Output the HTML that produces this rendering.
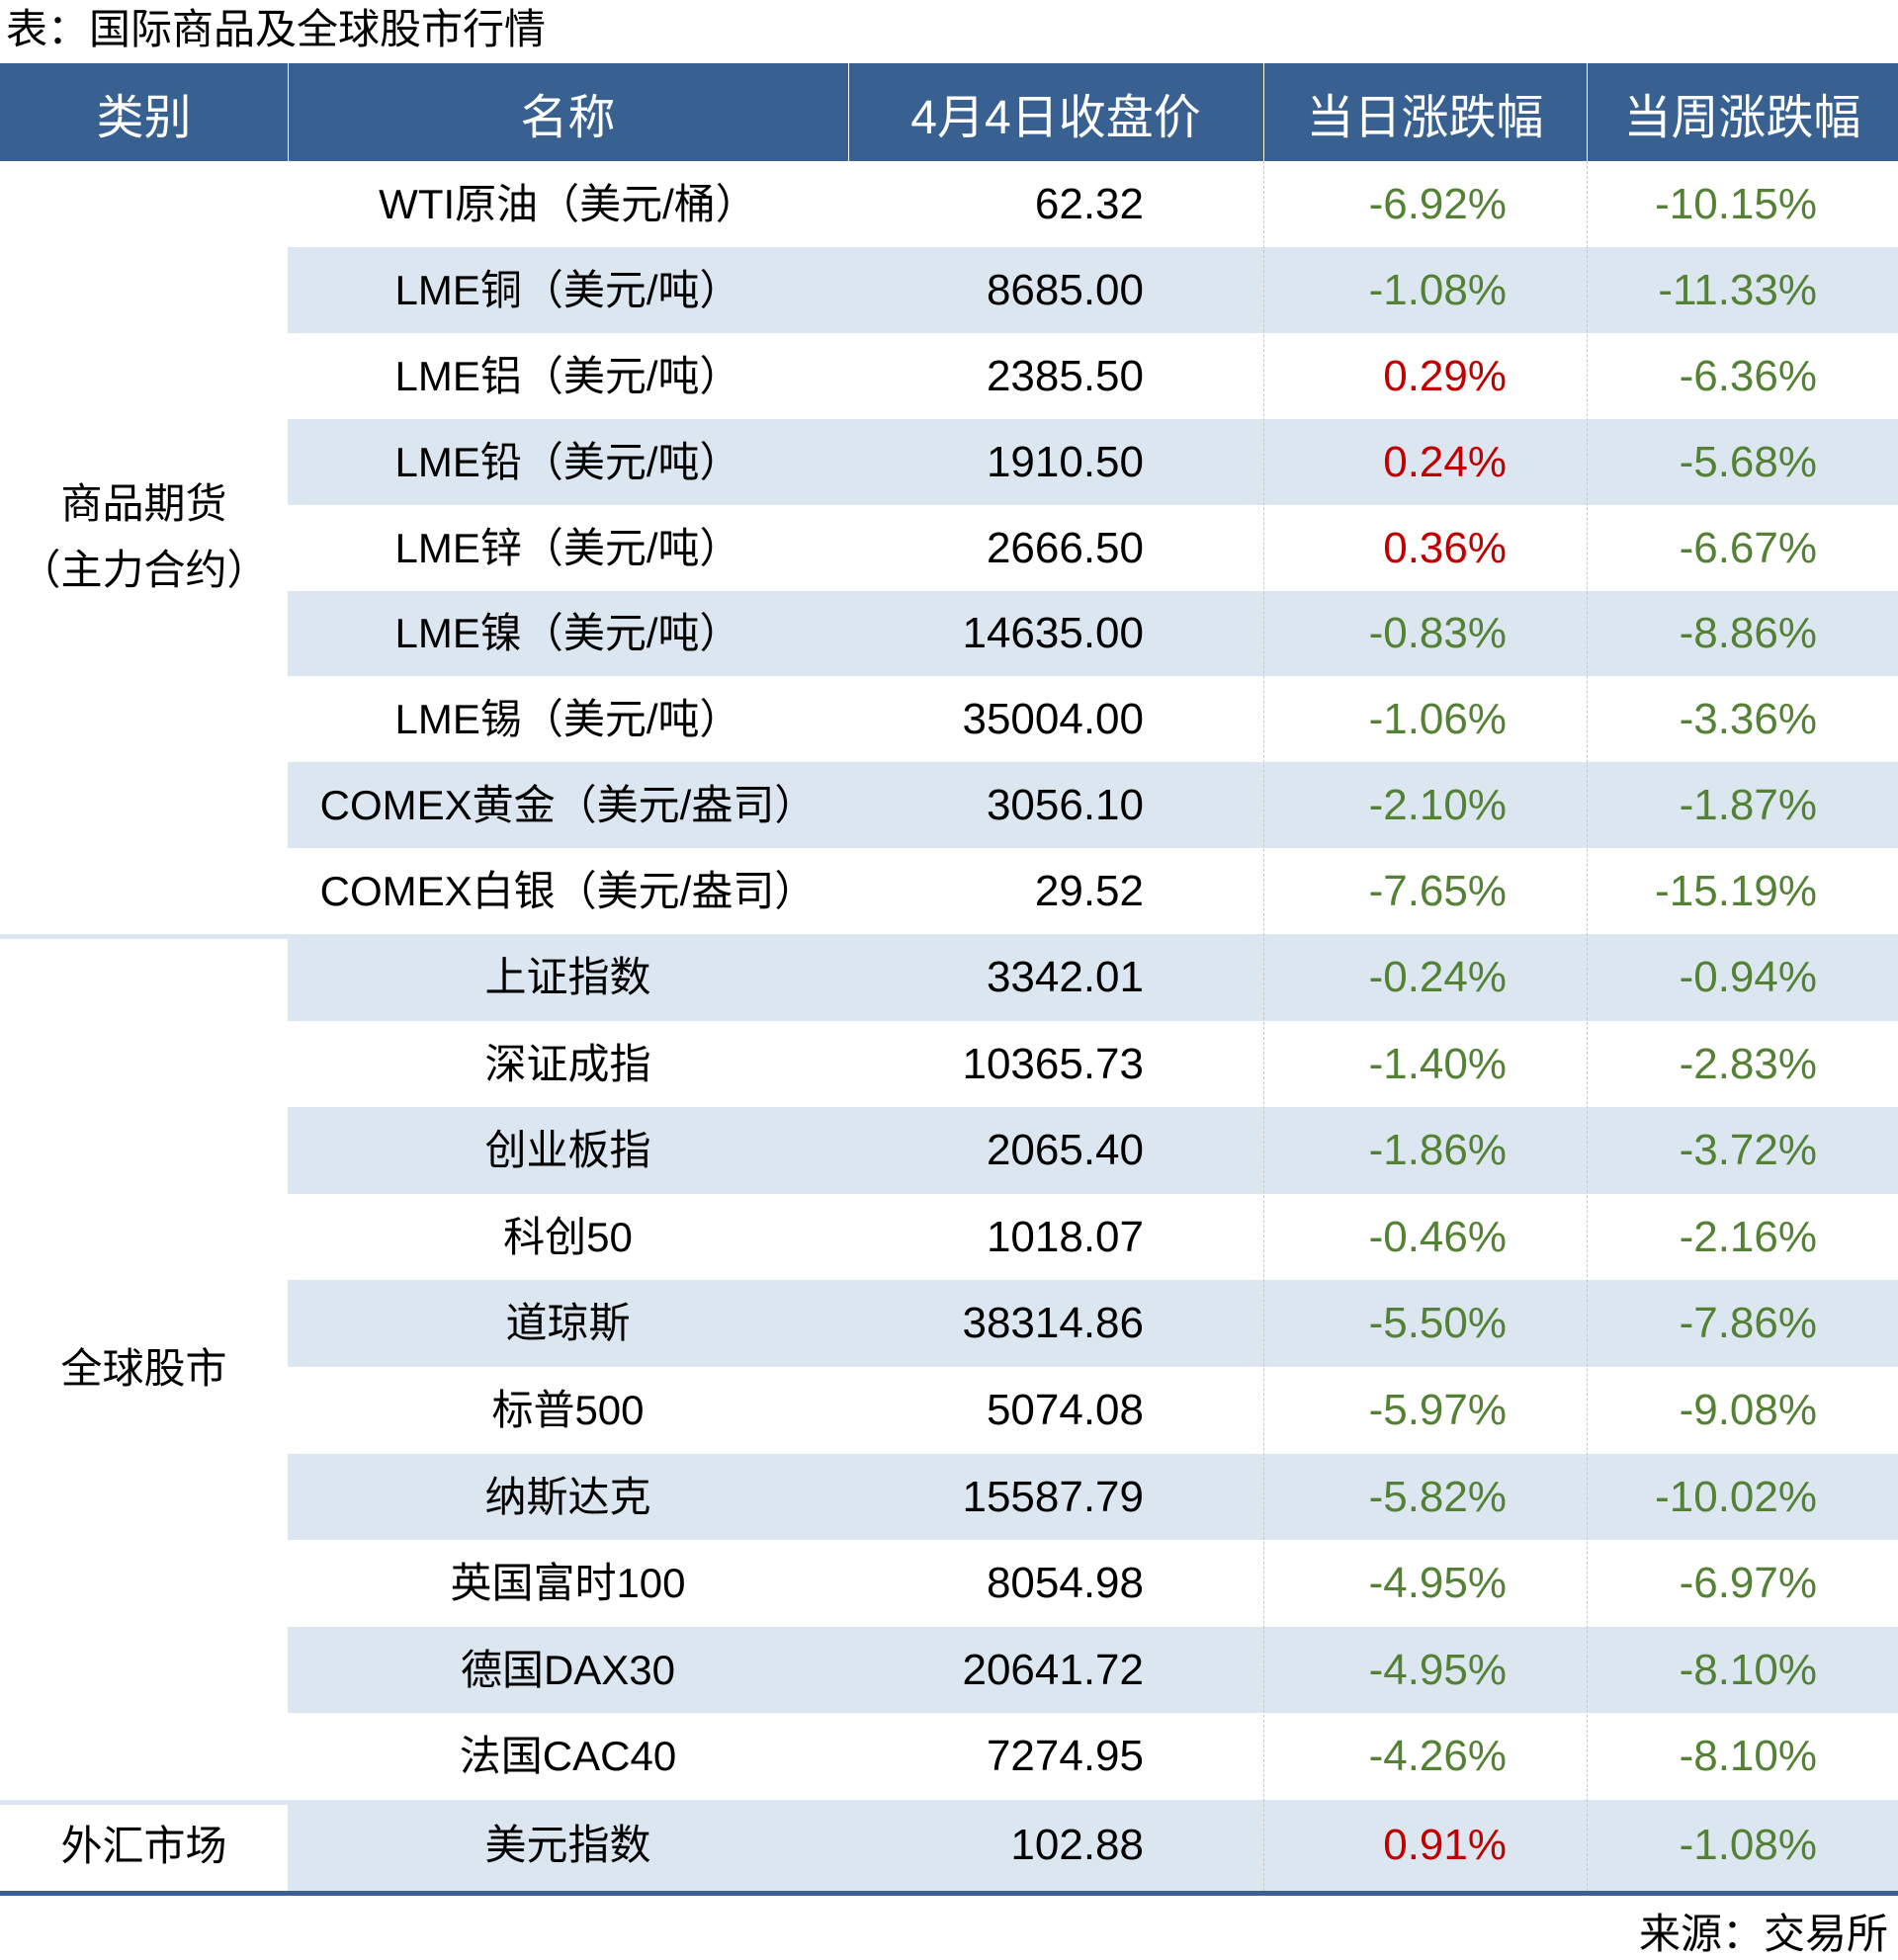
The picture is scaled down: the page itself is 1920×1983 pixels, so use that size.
<!DOCTYPE html>
<html><head><meta charset="utf-8">
<style>
*{margin:0;padding:0;box-sizing:border-box}
body{width:1920px;height:1983px;background:#fff;position:relative;overflow:hidden;font-family:"Liberation Sans","Noto Sans CJK SC",sans-serif;color:#000}
.a{position:absolute}
.title{left:6px;top:5px;font-size:42px;line-height:50px}
.hdr{left:0;top:64px;width:1920px;height:99px;background:#386192}
.hc{position:absolute;top:70px;height:99px;line-height:99px;color:#fff;font-size:48px;text-align:center}
.vs{position:absolute;top:64px;height:99px;width:1px;background:#fff}
.shade{position:absolute;left:291px;width:1629px;background:#dce6f0}
.cell{position:absolute;font-size:42px;white-space:nowrap}
.nm{left:291px;width:567px;text-align:center}
.pr{left:860px;width:297px;text-align:right;font-size:44px}
.d{left:1280px;width:244px;text-align:right;font-size:44px}
.w{left:1607px;width:231px;text-align:right;font-size:44px}
.g{color:#548235}.r{color:#c00000}
.dash{position:absolute;top:163px;height:1750px;width:0;border-left:1px dashed #c8c8c8}
.cat{position:absolute;left:0;width:291px;text-align:center;font-size:42px}
</style></head><body>
<div class="a title">表：国际商品及全球股市行情</div>
<div class="a hdr"></div>
<div class="hc" style="left:0;width:291px">类别</div>
<div class="hc" style="left:291px;width:567px">名称</div>
<div class="hc" style="left:858px;width:420px">4月4日收盘价</div>
<div class="hc" style="left:1278px;width:327px">当日涨跌幅</div>
<div class="hc" style="left:1605px;width:315px">当周涨跌幅</div>
<div class="vs" style="left:291px"></div>
<div class="vs" style="left:858px"></div>
<div class="vs" style="left:1278px"></div>
<div class="vs" style="left:1605px"></div>
<div id="rows"></div>
<div class="a" style="left:0;top:945px;width:291px;height:5px;background:#dce6f0"></div>
<div class="a" style="left:0;top:1821px;width:291px;height:5px;background:#dce6f0"></div>
<div class="a" style="left:0;top:1913px;width:1920px;height:5px;background:#386192"></div>
<div class="cat" style="top:482px;line-height:56px">商品期货</div>
<div class="cat" style="top:549px;line-height:56px">（主力合约）</div>
<div class="cat" style="top:1357px;line-height:56px">全球股市</div>
<div class="cat" style="top:1840px;line-height:56px">外汇市场</div>
<div class="a" style="right:10px;top:1932px;font-size:42px;line-height:50px">来源：交易所</div>
<script>
var c=[["WTI原油（美元/桶）","62.32","-6.92%","-10.15%"],["LME铜（美元/吨）","8685.00","-1.08%","-11.33%"],["LME铝（美元/吨）","2385.50","0.29%","-6.36%"],["LME铅（美元/吨）","1910.50","0.24%","-5.68%"],["LME锌（美元/吨）","2666.50","0.36%","-6.67%"],["LME镍（美元/吨）","14635.00","-0.83%","-8.86%"],["LME锡（美元/吨）","35004.00","-1.06%","-3.36%"],["COMEX黄金（美元/盎司）","3056.10","-2.10%","-1.87%"],["COMEX白银（美元/盎司）","29.52","-7.65%","-15.19%"]];
var s=[["上证指数","3342.01","-0.24%","-0.94%"],["深证成指","10365.73","-1.40%","-2.83%"],["创业板指","2065.40","-1.86%","-3.72%"],["科创50","1018.07","-0.46%","-2.16%"],["道琼斯","38314.86","-5.50%","-7.86%"],["标普500","5074.08","-5.97%","-9.08%"],["纳斯达克","15587.79","-5.82%","-10.02%"],["英国富时100","8054.98","-4.95%","-6.97%"],["德国DAX30","20641.72","-4.95%","-8.10%"],["法国CAC40","7274.95","-4.26%","-8.10%"]];
var h="";
function row(r,top,ht,sh){
 if(sh)h+='<div class="shade" style="top:'+top+'px;height:'+ht+'px"></div>';
 var lh='top:'+top+'px;height:'+ht+'px;line-height:'+ht+'px';
 h+='<div class="cell nm" style="'+lh+'">'+r[0]+'</div>';
 h+='<div class="cell pr" style="'+lh+'">'+r[1]+'</div>';
 h+='<div class="cell d '+(r[2][0]=='-'?'g':'r')+'" style="'+lh+'">'+r[2]+'</div>';
 h+='<div class="cell w '+(r[3][0]=='-'?'g':'r')+'" style="'+lh+'">'+r[3]+'</div>';
}
for(var i=0;i<9;i++){var t=Math.round(163+i*86.9),b=Math.round(163+(i+1)*86.9);row(c[i],t,b-t,i%2==1);}
for(var i=0;i<10;i++){var t=Math.round(945+i*87.6),b=Math.round(945+(i+1)*87.6);row(s[i],t,b-t,i%2==0);}
row(["美元指数","102.88","0.91%","-1.08%"],1821,92,true);
h+='<div class="dash" style="left:1278px"></div><div class="dash" style="left:1605px"></div>';
document.getElementById("rows").innerHTML=h;
</script>
</body></html>
